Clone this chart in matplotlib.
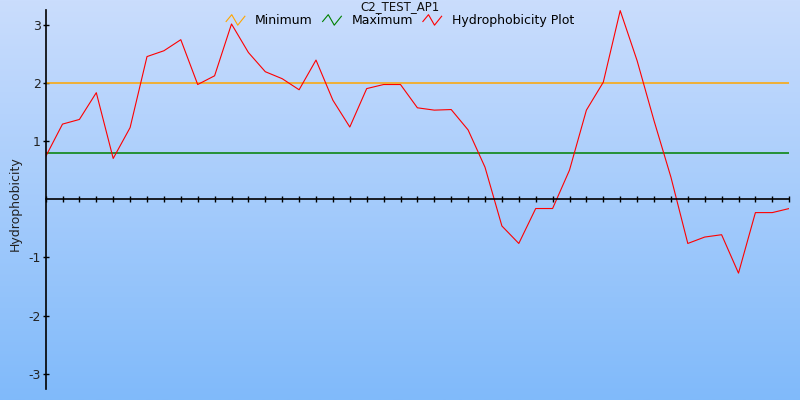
import numpy as np
import matplotlib
matplotlib.use("Agg")
import matplotlib.pyplot as plt
from matplotlib.legend_handler import HandlerBase
from matplotlib.lines import Line2D

# hydrophobicity values, one per window position
hydro = [0.73, 1.29, 1.37, 1.83, 0.70, 1.23, 2.45, 2.55, 2.74, 1.97,
         2.12, 3.01, 2.52, 2.19, 2.07, 1.88, 2.39, 1.70, 1.24, 1.90,
         1.97, 1.97, 1.57, 1.53, 1.54, 1.19, 0.55, -0.46, -0.76, -0.16,
         -0.16, 0.50, 1.53, 2.01, 3.24, 2.38, 1.35, 0.38, -0.76, -0.65,
         -0.61, -1.27, -0.23, -0.23, -0.16]
minimum = 2.0
maximum = 0.8
title = "C2_TEST_AP1"
ytick_vals = [-3, -2, -1, 1, 2, 3]

positions = np.arange(len(hydro))

plt.rcParams['font.family'] = ['DejaVu Sans']

fig = plt.figure(figsize=(8, 4), dpi=100)

# gradient background
bg = fig.add_axes([0, 0, 1, 1], zorder=0)
grad = np.linspace(0, 1, 256).reshape(-1, 1)
top = np.array([202, 221, 253]) / 255.0
bottom = np.array([128, 186, 250]) / 255.0
img = top[None, None, :] * (1 - grad[:, :, None]) + bottom[None, None, :] * grad[:, :, None]
bg.imshow(img, aspect='auto', extent=[0, 1, 0, 1])
bg.axis('off')

ax = fig.add_axes([0.057, 0.0275, 0.9295, 0.9475], zorder=1)
ax.patch.set_alpha(0)

ax.axhline(minimum, color='#FFA500', lw=1.1, label='Minimum')
ax.axhline(maximum, color='#008000', lw=1.1, label='Maximum')
ax.plot(positions, hydro, color='#FF0000', lw=0.8, label='Hydrophobicity Plot')

ax.set_xlim(0, len(hydro) - 1)
ax.set_ylim(-3.26, 3.25)

ax.spines['top'].set_visible(False)
ax.spines['right'].set_visible(False)
ax.spines['bottom'].set_position(('data', 0))
ax.spines['left'].set_linewidth(1.2)
ax.spines['bottom'].set_linewidth(1.2)

ax.set_xticks(positions)
ax.set_xticklabels([])
ax.tick_params(axis='x', direction='inout', length=5, width=1)
ax.set_yticks(ytick_vals)
ax.set_yticklabels([str(v) for v in ytick_vals], fontsize=9, color='#222222')
ax.tick_params(axis='y', direction='inout', length=5, width=1, pad=1)

ax.set_ylabel('Hydrophobicity', fontsize=9, color='#222222')
ax.yaxis.set_label_coords(-0.032, 0.49)

fig.text(0.5, 0.975, title, ha='center', va='baseline', fontsize=8.5, color='#111111')


class ZigzagHandler(HandlerBase):
    def create_artists(self, legend, orig_handle, xdescent, ydescent,
                       width, height, fontsize, trans):
        xs = np.array([0.0, 0.3, 0.62, 1.0]) * width - xdescent
        ys = np.array([0.35, 1.0, 0.0, 0.85]) * height * 1.2 - ydescent - 0.1 * height
        line = Line2D(xs, ys, color=orig_handle.get_color(), lw=0.8)
        line.set_transform(trans)
        return [line]


handles, labels = ax.get_legend_handles_labels()
fig.legend(handles, labels, loc='center', bbox_to_anchor=(0.5, 0.948), ncol=3,
           frameon=False, fontsize=9, handlelength=1.5, handletextpad=0.8,
           columnspacing=0.8, borderpad=0.2, handler_map={Line2D: ZigzagHandler()})

fig.savefig('out.png', dpi=100)
